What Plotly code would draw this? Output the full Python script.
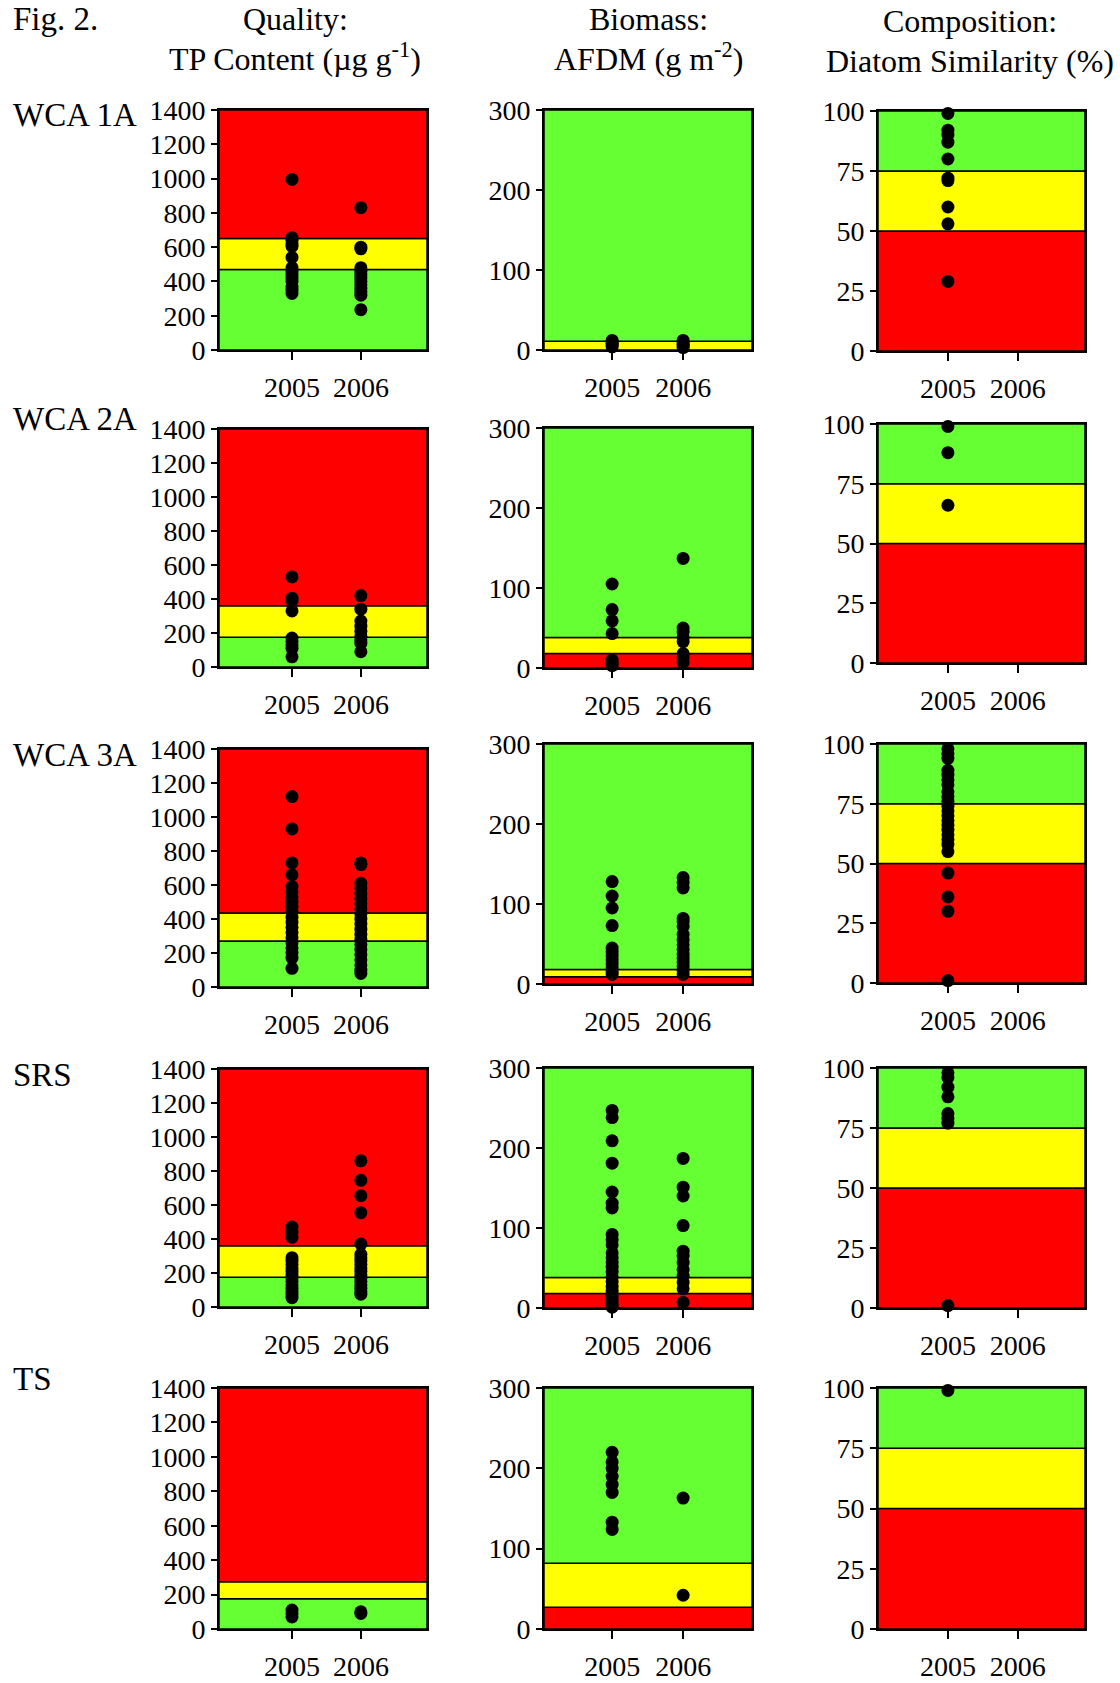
import plotly.graph_objects as go

# ---------------- DATA ----------------
YEARS = ["2005", "2006"]
SITES = ["WCA 1A", "WCA 2A", "WCA 3A", "SRS", "TS"]

# Quality: TP content (ug/g)
TP_WCA1A_2005 = [995, 655, 640, 620, 605, 540, 480, 460, 440, 420, 400, 370, 350, 330]
TP_WCA1A_2006 = [830, 600, 590, 480, 460, 440, 420, 400, 380, 360, 340, 320, 235]
TP_WCA2A_2005 = [530, 405, 390, 330, 170, 150, 130, 110, 60]
TP_WCA2A_2006 = [420, 340, 270, 240, 210, 180, 160, 140, 90]
TP_WCA3A_2005 = [1120, 930, 730, 660, 590, 560, 530, 500, 470, 440, 410, 380, 350,
                 320, 290, 260, 230, 200, 170, 110]
TP_WCA3A_2006 = [730, 720, 610, 580, 550, 520, 490, 460, 430, 400, 370, 340, 310,
                 280, 250, 220, 190, 160, 130, 100, 80]
TP_SRS_2005 = [470, 440, 410, 290, 270, 250, 230, 210, 190, 170, 150, 130, 110, 90, 70, 55]
TP_SRS_2006 = [860, 745, 655, 555, 370, 310, 290, 270, 250, 230, 210, 190, 170, 150,
               130, 110, 90, 75]
TP_TS_2005 = [110, 90, 70]
TP_TS_2006 = [100, 90]

# Biomass: AFDM (g/m2)
AFDM_WCA1A_2005 = [12, 10, 8, 6, 4]
AFDM_WCA1A_2006 = [12, 9, 7, 5, 3]
AFDM_WCA2A_2005 = [105, 73, 59, 43, 10, 6, 3]
AFDM_WCA2A_2006 = [137, 50, 45, 38, 33, 18, 13, 7]
AFDM_WCA3A_2005 = [128, 110, 95, 73, 45, 40, 35, 30, 25, 20, 15, 12]
AFDM_WCA3A_2006 = [133, 127, 120, 82, 78, 72, 62, 55, 49, 43, 37, 32, 27, 22, 17, 12]
AFDM_SRS_2005 = [247, 238, 209, 181, 145, 131, 125, 92, 85, 79, 69, 63, 57, 51, 45, 39,
                 33, 27, 21, 15, 10, 5, 1]
AFDM_SRS_2006 = [187, 151, 140, 103, 71, 65, 57, 48, 40, 32, 24, 7]
AFDM_TS_2005 = [220, 208, 200, 190, 180, 170, 133, 124]
AFDM_TS_2006 = [163, 42]

# Composition: diatom similarity (%)
DS_WCA1A_2005 = [99, 92, 90, 87, 80, 72, 71, 60, 53, 29]
DS_WCA1A_2006 = []
DS_WCA2A_2005 = [99, 88, 66]
DS_WCA2A_2006 = []
DS_WCA3A_2005 = [98, 96, 94, 89, 87, 85, 83, 80, 78, 76, 74, 72, 70, 68, 66, 64, 62,
                 60, 58, 55, 46, 36, 30, 1]
DS_WCA3A_2006 = []
DS_SRS_2005 = [98, 96, 92, 88, 81, 79, 77, 1]
DS_SRS_2006 = []
DS_TS_2005 = [99]
DS_TS_2006 = []

# Threshold bands (per site)
TP_GREEN_MAX = [470, 175, 270, 175, 175]
TP_YELLOW_MAX = [650, 360, 435, 360, 275]
AFDM_RED_MAX = [0, 18, 9, 18, 27]
AFDM_YELLOW_MAX = [11, 38, 18, 38, 82]
DS_RED_MAX = [50, 50, 50, 50, 50]
DS_YELLOW_MAX = [75, 75, 75, 75, 75]

Y_MAX = [1400, 300, 100]
Y_TICKS = [[0, 200, 400, 600, 800, 1000, 1200, 1400], [0, 100, 200, 300], [0, 25, 50, 75, 100]]

HEADERS = [("Quality:", "TP Content (µg g<sup>-1</sup>)"),
           ("Biomass:", "AFDM (g m<sup>-2</sup>)"),
           ("Composition:", "Diatom Similarity (%)")]

# ---------------- STYLE / LAYOUT ----------------
W, H = 1120, 1683
RED, YELLOW, GREEN = "#FF0000", "#FFFF00", "#66FF33"
FONT = "Liberation Serif"

# positions in page pixels
PANEL_X = [(219, 427), (544, 752), (878, 1085)]
PANEL_Y = [
    [(110, 350), (110, 350), (111, 351)],
    [(429, 667), (428, 668), (424, 663)],
    [(749, 987), (744, 984), (744, 983)],
    [(1069, 1307), (1068, 1308), (1068, 1308)],
    [(1388, 1629), (1388, 1629), (1388, 1629)],
]
X_RANGES = [[-0.06, 2.96], [0.04, 2.97], [0.0, 2.96]]
ROW_LABEL_Y = [115, 419, 755, 1075, 1379]


def fx(px):
    return px / W


def fy(py):
    return 1 - py / H


TP = [(TP_WCA1A_2005, TP_WCA1A_2006), (TP_WCA2A_2005, TP_WCA2A_2006),
      (TP_WCA3A_2005, TP_WCA3A_2006), (TP_SRS_2005, TP_SRS_2006), (TP_TS_2005, TP_TS_2006)]
AFDM = [(AFDM_WCA1A_2005, AFDM_WCA1A_2006), (AFDM_WCA2A_2005, AFDM_WCA2A_2006),
        (AFDM_WCA3A_2005, AFDM_WCA3A_2006), (AFDM_SRS_2005, AFDM_SRS_2006),
        (AFDM_TS_2005, AFDM_TS_2006)]
DS = [(DS_WCA1A_2005, DS_WCA1A_2006), (DS_WCA2A_2005, DS_WCA2A_2006),
      (DS_WCA3A_2005, DS_WCA3A_2006), (DS_SRS_2005, DS_SRS_2006), (DS_TS_2005, DS_TS_2006)]
COLS = [TP, AFDM, DS]


def bands(col, r):
    if col == 0:
        return [(0, TP_GREEN_MAX[r], GREEN), (TP_GREEN_MAX[r], TP_YELLOW_MAX[r], YELLOW),
                (TP_YELLOW_MAX[r], Y_MAX[0], RED)]
    if col == 1:
        out = []
        if AFDM_RED_MAX[r] > 0:
            out.append((0, AFDM_RED_MAX[r], RED))
        out += [(AFDM_RED_MAX[r], AFDM_YELLOW_MAX[r], YELLOW), (AFDM_YELLOW_MAX[r], Y_MAX[1], GREEN)]
        return out
    return [(0, DS_RED_MAX[r], RED), (DS_RED_MAX[r], DS_YELLOW_MAX[r], YELLOW),
            (DS_YELLOW_MAX[r], Y_MAX[2], GREEN)]


fig = go.Figure()
layout = {}
shapes = []
k = 0
for r in range(5):
    for c in range(3):
        k += 1
        suf = "" if k == 1 else str(k)
        xref, yref = "x" + suf, "y" + suf
        x0, x1 = PANEL_X[c]
        top, bot = PANEL_Y[r][c]
        layout["xaxis" + suf] = dict(
            domain=[fx(x0), fx(x1)], range=X_RANGES[c], anchor=yref, automargin=False,
            tickmode="array", tickvals=[1, 2], ticktext=YEARS,
            ticks="outside", ticklen=8, tickwidth=2, tickcolor="black",
            showline=True, linewidth=2, linecolor="black", mirror=True,
            showgrid=False, zeroline=False, ticklabelstandoff=3,
            tickfont=dict(family=FONT, size=28, color="black"),
        )
        layout["yaxis" + suf] = dict(
            domain=[fy(bot), fy(top)], range=[0, Y_MAX[c]], anchor=xref, automargin=False,
            tickmode="array", tickvals=Y_TICKS[c],
            ticks="outside", ticklen=6, tickwidth=2, tickcolor="black",
            showline=True, linewidth=2, linecolor="black", mirror=True,
            showgrid=False, zeroline=False,
            tickfont=dict(family=FONT, size=28, color="black"),
        )
        for lo, hi, color in bands(c, r):
            shapes.append(dict(type="rect", xref=xref + " domain", x0=0, x1=1,
                               yref=yref, y0=lo, y1=hi, fillcolor=color,
                               line=dict(color="black", width=1.5), layer="below"))
        for yi, vals in enumerate(COLS[c][r]):
            if not vals:
                continue
            fig.add_trace(go.Scatter(
                x=[yi + 1] * len(vals), y=vals, mode="markers",
                marker=dict(color="black", size=13, line=dict(width=0)),
                xaxis=xref, yaxis=yref, cliponaxis=False, showlegend=False,
                hoverinfo="skip"))

annotations = []
lfont = dict(family=FONT, size=33, color="black")
hfont = dict(family=FONT, size=32, color="black")
annotations.append(dict(text="Fig. 2.", x=fx(11), y=fy(19), xref="paper", yref="paper",
                        xanchor="left", yanchor="middle", showarrow=False, font=lfont))
HEADER_X = [295, 648, 970]
HEADER_Y = [(19, 57), (19, 57), (21, 61)]
for (l1, l2), hx, (y1, y2) in zip(HEADERS, HEADER_X, HEADER_Y):
    annotations.append(dict(text=l1, x=fx(hx), y=fy(y1), xref="paper", yref="paper",
                            xanchor="center", yanchor="middle", showarrow=False, font=hfont))
    annotations.append(dict(text=l2, x=fx(hx), y=fy(y2), xref="paper", yref="paper",
                            xanchor="center", yanchor="middle", showarrow=False, font=hfont))
for site, ly in zip(SITES, ROW_LABEL_Y):
    annotations.append(dict(text=site, x=fx(11), y=fy(ly), xref="paper", yref="paper",
                            xanchor="left", yanchor="middle", showarrow=False, font=lfont))

fig.update_layout(
    width=W, height=H, margin=dict(l=0, r=0, t=0, b=0, autoexpand=False),
    paper_bgcolor="white", plot_bgcolor="white",
    shapes=shapes, annotations=annotations, showlegend=False,
    **layout,
)
fig.write_html("out.html", config={"displayModeBar": False, "staticPlot": True},
               post_script="document.body.style.margin='0px';")
